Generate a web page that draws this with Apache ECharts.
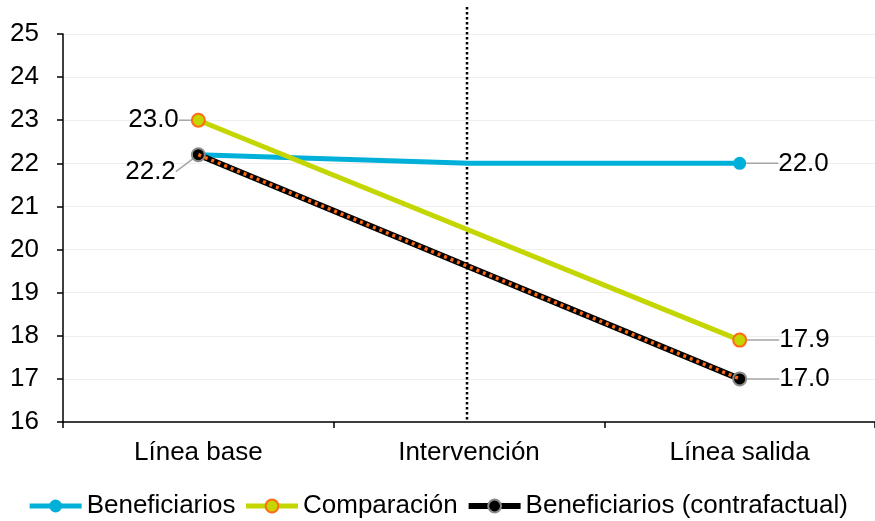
<!DOCTYPE html>
<html>
<head>
<meta charset="utf-8">
<script src="https://cdn.jsdelivr.net/npm/echarts@6/dist/echarts.min.js"></script>
<style>html,body{margin:0;padding:0;background:#fff}#c{width:875px;height:521px}</style>
</head>
<body>
<div id="c"></div>
<script>
const categories = ['Línea base', 'Intervención', 'Línea salida'];
const beneficiarios = [22.2, 22.0, 22.0];
const comparacion = [23.0, null, 17.9];
const contrafactual = [22.2, null, 17.0];
const seriesNames = ['Beneficiarios', 'Comparación', 'Beneficiarios (contrafactual)'];
const yMin = 16, yMax = 25, yInterval = 1;

const FONT = 'Liberation Sans, Arial, sans-serif';
const FS = 26;
const leader = { show: true, lineStyle: { color: '#a6a6a6', width: 1.5 } };

function toData(arr, labels) {
  return arr.map((v, i) => {
    if (v === null) return '-';
    const item = { value: v };
    const l = labels[i];
    if (l) item.label = Object.assign({ show: true }, l);
    else item.label = { show: false };
    return item;
  });
}

const lblBase = { fontFamily: FONT, fontSize: FS, color: '#000', formatter: p => Number(p.value).toFixed(1) };
const rightLbl = Object.assign({}, lblBase, { position: 'right', distance: 5 });
const leftLbl = Object.assign({}, lblBase, { position: 'left', distance: 12 });

const benData = toData(beneficiarios, [null, null, rightLbl]);
benData[1].symbol = 'none';
const compData = toData(comparacion, [leftLbl, null, rightLbl]);
const contraData = toData(contrafactual, [leftLbl, null, rightLbl]);

const chart = echarts.init(document.getElementById('c'));
const option = {
  animation: false,
  backgroundColor: '#fff',
  textStyle: { fontFamily: FONT },
  grid: { left: 63, right: -4, top: 34, bottom: 99, containLabel: false },
  legend: {
    data: [
      { name: seriesNames[0], lineStyle: { width: 5 } },
      { name: seriesNames[1], lineStyle: { width: 5 } },
      { name: seriesNames[2], lineStyle: { width: 6 } }
    ],
    bottom: -3,
    left: 'center',
    padding: [5, 0, 5, 28],
    itemWidth: 52,
    itemHeight: 16,
    itemGap: 8,
    textStyle: { fontFamily: FONT, fontSize: FS, color: '#000' }
  },
  xAxis: {
    type: 'category',
    data: categories,
    boundaryGap: true,
    axisLine: { lineStyle: { color: '#000', width: 1.5 } },
    axisTick: { show: true, length: 6, lineStyle: { color: '#000', width: 1.5 } },
    axisLabel: { fontFamily: FONT, fontSize: FS, color: '#000', margin: 18 },
    splitLine: { show: false }
  },
  yAxis: {
    type: 'value',
    min: yMin, max: yMax, interval: yInterval,
    axisLine: { show: true, lineStyle: { color: '#000', width: 1.5 } },
    axisTick: { show: true, length: 6, lineStyle: { color: '#000', width: 1.5 } },
    axisLabel: { fontFamily: FONT, fontSize: FS, color: '#000', margin: 24 },
    splitLine: { show: true, lineStyle: { color: '#eeeeee', width: 1 } }
  },
  series: [
    {
      name: seriesNames[0], type: 'line', data: benData, z: 2,
      symbol: 'circle', symbolSize: 13,
      itemStyle: { color: '#00B0D8' },
      lineStyle: { color: '#00B0D8', width: 5 },
      labelLine: leader,
      labelLayout: p => p.dataIndex === 2 ? { dx: 27 } : {}
    },
    {
      name: seriesNames[1], type: 'line', data: compData, z: 3, connectNulls: true,
      symbol: 'circle', symbolSize: 13,
      itemStyle: { color: '#C3D600', borderColor: '#FF6A13', borderWidth: 2 },
      lineStyle: { color: '#C3D600', width: 5 },
      labelLine: leader,
      labelLayout: p => p.dataIndex === 2 ? { dx: 27 } : {}
    },
    {
      name: seriesNames[2], type: 'line', data: contraData, z: 4, connectNulls: true,
      symbol: 'circle', symbolSize: 13,
      itemStyle: { color: '#000', borderColor: '#8c8c8c', borderWidth: 2 },
      lineStyle: { color: '#000', width: 6 },
      labelLine: leader,
      labelLayout: p => p.dataIndex === 2 ? { dx: 27 } : (p.dataIndex === 0 ? { dx: -3, dy: 17 } : {})
    },
    {
      name: '_overlay', type: 'line', data: contrafactual.map(v => v === null ? '-' : v),
      z: 5, connectNulls: true, symbol: 'none', silent: true,
      lineStyle: { color: '#FF6A13', width: 3.5, type: [3, 4], cap: 'butt' }
    }
  ]
};
chart.setOption(option);

const xMid = chart.convertToPixel({ xAxisIndex: 0 }, categories[1]);
const yBottom = chart.convertToPixel({ yAxisIndex: 0 }, yMin);
chart.setOption({
  graphic: [{
    type: 'line', z: 1, silent: true,
    shape: { x1: xMid - 2, y1: 7, x2: xMid - 2, y2: yBottom },
    style: { stroke: '#000', lineWidth: 2.5, lineDash: [2.5, 2.5] }
  }]
});
</script>
</body>
</html>
